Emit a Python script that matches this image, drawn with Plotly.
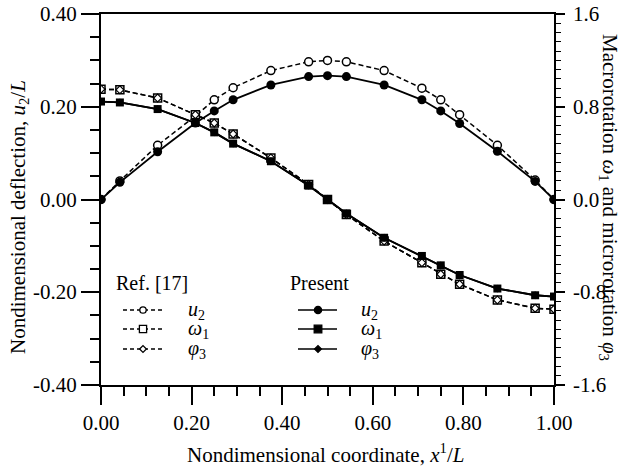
import plotly.graph_objects as go

# ---- data ----
x = [0/24, 1/24, 3/24, 5/24, 6/24, 7/24, 9/24, 11/24, 12/24, 13/24, 15/24, 17/24, 18/24, 19/24, 21/24, 23/24, 24/24]

u2_present = [0.0, 0.037, 0.103, 0.165, 0.191, 0.215, 0.247, 0.265, 0.267, 0.265, 0.247, 0.215, 0.191, 0.164, 0.104, 0.039, 0.0]
u2_ref     = [0.0, 0.040, 0.117, 0.180, 0.215, 0.241, 0.278, 0.297, 0.300, 0.297, 0.278, 0.240, 0.215, 0.183, 0.117, 0.042, 0.0]

omega_present = [0.845, 0.837, 0.780, 0.660, 0.579, 0.482, 0.330, 0.120, 0.0, -0.120, -0.330, -0.487, -0.568, -0.651, -0.768, -0.826, -0.837]
omega_ref     = [0.952, 0.946, 0.875, 0.731, 0.660, 0.565, 0.359, 0.129, 0.0, -0.129, -0.359, -0.545, -0.645, -0.731, -0.866, -0.938, -0.946]

phi_present = [0.845, 0.837, 0.780, 0.660, 0.579, 0.482, 0.330, 0.120, 0.0, -0.120, -0.330, -0.487, -0.568, -0.651, -0.768, -0.826, -0.837]
phi_ref     = [0.952, 0.946, 0.875, 0.731, 0.660, 0.565, 0.359, 0.129, 0.0, -0.129, -0.359, -0.545, -0.645, -0.731, -0.866, -0.938, -0.946]

x_ticks = [0.0, 0.2, 0.4, 0.6, 0.8, 1.0]
x_ticktext = ["0.00", "0.20", "0.40", "0.60", "0.80", "1.00"]
yl_ticks = [-0.4, -0.2, 0.0, 0.2, 0.4]
yl_ticktext = ["-0.40", "-0.20", "0.00", "0.20", "0.40"]
yr_ticks = [-1.6, -0.8, 0.0, 0.8, 1.6]
yr_ticktext = ["-1.6", "-0.8", "0.0", "0.8", "1.6"]

FONT = "Times New Roman, Liberation Serif, serif"
BLACK = "#000000"
DASH = "5px,3px"

# plot area in pixels (for placing decorations)
PL, PR, PT, PB = 101, 554, 14, 385
def px(xp):
    return (xp - PL) / (PR - PL)
def py(yp):
    return (PB - yp) / (PB - PT)

fig = go.Figure()

# Ref (dashed, open markers)
fig.add_trace(go.Scatter(x=x, y=u2_ref, mode="lines+markers", yaxis="y",
    line=dict(color=BLACK, width=1.5, dash=DASH),
    marker=dict(symbol="circle", size=8, color="white", line=dict(color=BLACK, width=1.5)),
    showlegend=False))
fig.add_trace(go.Scatter(x=x, y=omega_ref, mode="lines+markers", yaxis="y2",
    line=dict(color=BLACK, width=1.5, dash=DASH),
    marker=dict(symbol="square", size=8, color="white", line=dict(color=BLACK, width=1.5)),
    showlegend=False))
fig.add_trace(go.Scatter(x=x, y=phi_ref, mode="lines+markers", yaxis="y2",
    line=dict(color=BLACK, width=1.5, dash=DASH),
    marker=dict(symbol="diamond", size=6, color="white", line=dict(color=BLACK, width=1.2)),
    showlegend=False))

# Present (solid, filled markers)
fig.add_trace(go.Scatter(x=x, y=u2_present, mode="lines+markers", yaxis="y",
    line=dict(color=BLACK, width=1.8),
    marker=dict(symbol="circle", size=9, color=BLACK),
    showlegend=False))
fig.add_trace(go.Scatter(x=x, y=omega_present, mode="lines+markers", yaxis="y2",
    line=dict(color=BLACK, width=1.8),
    marker=dict(symbol="square", size=8, color=BLACK),
    showlegend=False))
fig.add_trace(go.Scatter(x=x, y=phi_present, mode="lines+markers", yaxis="y2",
    line=dict(color=BLACK, width=1.8),
    marker=dict(symbol="diamond", size=6, color=BLACK),
    showlegend=False))

# ---- custom legend drawn with shapes (pixel positions converted to paper) ----
shapes = []
rows_y = [310, 329, 349]
def marker_shape(kind, cx, cy, r, fill):
    line = dict(color=BLACK, width=1.3)
    if kind == "circle":
        return dict(type="circle", xref="paper", yref="paper", x0=px(cx - r), x1=px(cx + r),
                    y0=py(cy + r), y1=py(cy - r), line=line, fillcolor=fill, layer="above")
    if kind == "square":
        return dict(type="rect", xref="paper", yref="paper", x0=px(cx - r), x1=px(cx + r),
                    y0=py(cy + r), y1=py(cy - r), line=line, fillcolor=fill, layer="above")
    path = "M {a},{b} L {c},{d} L {e},{f} L {g},{h} Z".format(
        a=px(cx - r), b=py(cy), c=px(cx), d=py(cy - r), e=px(cx + r), f=py(cy), g=px(cx), h=py(cy + r))
    return dict(type="path", xref="paper", yref="paper", path=path, line=line, fillcolor=fill, layer="above")

kinds = ["circle", "square", "diamond"]
ref_r = [3.2, 3.6, 3.4]
pres_r = [3.6, 3.8, 3.4]
for yy, k, r in zip(rows_y, kinds, ref_r):
    shapes.append(dict(type="line", xref="paper", yref="paper", x0=px(123), x1=px(163), y0=py(yy), y1=py(yy),
                       line=dict(color=BLACK, width=1.3, dash="4px,3px"), layer="above"))
    shapes.append(marker_shape(k, 143, yy, r, "white"))
for yy, k, r in zip(rows_y, kinds, pres_r):
    shapes.append(dict(type="line", xref="paper", yref="paper", x0=px(298), x1=px(337), y0=py(yy), y1=py(yy),
                       line=dict(color=BLACK, width=1.6), layer="above"))
    shapes.append(marker_shape(k, 318, yy, r, BLACK))

labels = ["<i>u</i><sub>2</sub>", "<i>ω</i><sub>1</sub>", "<i>φ</i><sub>3</sub>"]
annotations = []
for yy, t in zip(rows_y, labels):
    for xx in (186, 359):
        annotations.append(dict(x=px(xx), y=py(yy), xref="paper", yref="paper", text=t, showarrow=False,
            xanchor="left", yanchor="middle", font=dict(family=FONT, size=20, color=BLACK)))
annotations.append(dict(x=px(114), y=py(283), xref="paper", yref="paper", text="Ref. [17]", showarrow=False,
    xanchor="left", yanchor="middle", font=dict(family=FONT, size=20, color=BLACK)))
annotations.append(dict(x=px(288), y=py(283), xref="paper", yref="paper", text="Present", showarrow=False,
    xanchor="left", yanchor="middle", font=dict(family=FONT, size=20, color=BLACK)))

# y tick labels as annotations anchored to the axis values
for v, t in zip(yl_ticks, yl_ticktext):
    annotations.append(dict(x=px(79), y=v, xref="paper", yref="y", text=t, showarrow=False,
        xanchor="right", yanchor="middle", font=dict(family=FONT, size=21, color=BLACK)))
for v, t in zip(yr_ticks, yr_ticktext):
    annotations.append(dict(x=px(571), y=v, xref="paper", yref="y2", text=t, showarrow=False,
        xanchor="left", yanchor="middle", font=dict(family=FONT, size=21, color=BLACK)))

# axis titles
annotations.append(dict(x=px(19), y=py(217), xref="paper", yref="paper",
    text="Nondimensional deflection, <i>u</i><sub>2</sub>/<i>L</i>",
    textangle=-90, showarrow=False, xanchor="center", yanchor="middle", font=dict(family=FONT, size=21, color=BLACK)))
annotations.append(dict(x=px(609), y=py(197), xref="paper", yref="paper",
    text="Macrorotation <i>ω</i><sub>1</sub> and microrotation <i>φ</i><sub>3</sub>",
    textangle=90, showarrow=False, xanchor="center", yanchor="middle", font=dict(family=FONT, size=21, color=BLACK)))
annotations.append(dict(x=px(325), y=py(453), xref="paper", yref="paper",
    text="Nondimensional coordinate, <i>x</i><sup>1</sup>/<i>L</i>",
    showarrow=False, xanchor="center", yanchor="middle", font=dict(family=FONT, size=21, color=BLACK)))

def tf():
    return dict(family=FONT, size=21, color=BLACK)

fig.update_layout(
    width=622, height=468,
    margin=dict(l=PL, r=622 - PR, t=PT, b=468 - PB, pad=0),
    paper_bgcolor="white", plot_bgcolor="white",
    font=dict(family=FONT, color=BLACK, size=21),
    xaxis=dict(range=[0, 1], tickvals=x_ticks, ticktext=x_ticktext, ticks="outside", ticklen=18, tickwidth=1.5,
               tickcolor=BLACK, showline=True, linecolor=BLACK, linewidth=2, mirror=True, showgrid=False,
               zeroline=False, tickfont=tf(),
               minor=dict(dtick=0.05, ticks="outside", ticklen=9, tickwidth=1.5, tickcolor=BLACK, showgrid=False)),
    yaxis=dict(range=[-0.4, 0.4], tickvals=yl_ticks, ticktext=yl_ticktext, ticks="outside", ticklen=18, tickwidth=1.5,
               tickcolor=BLACK, showline=True, linecolor=BLACK, linewidth=2, showgrid=False, zeroline=False,
               showticklabels=False,
               minor=dict(dtick=0.05, ticks="outside", ticklen=9, tickwidth=1.5, tickcolor=BLACK, showgrid=False)),
    yaxis2=dict(range=[-1.6, 1.6], overlaying="y", side="right", tickvals=yr_ticks, ticktext=yr_ticktext,
                ticks="outside", ticklen=9, tickwidth=1.5, tickcolor=BLACK, showline=True, linecolor=BLACK,
                linewidth=2, showgrid=False, zeroline=False, showticklabels=False,
                minor=dict(dtick=0.08, ticks="outside", ticklen=5, tickwidth=1.2, tickcolor=BLACK, showgrid=False)),
    shapes=shapes,
    annotations=annotations,
)

fig.write_html("out.html")
